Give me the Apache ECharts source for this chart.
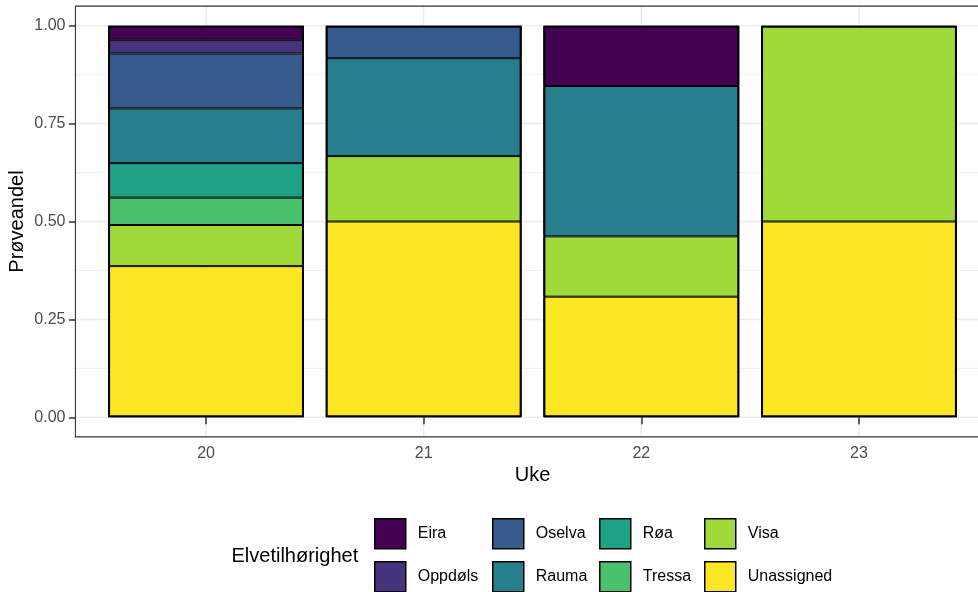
<!DOCTYPE html>
<html><head><meta charset="utf-8">
<script src="https://cdn.jsdelivr.net/npm/echarts@6/dist/echarts.min.js"></script>
<style>html,body{margin:0;padding:0;background:#fff}#c{width:978px;height:592px}</style>
</head><body><div id="c"></div>
<script>
// ---- data ----
const weeks = ['20', '21', '22', '23'];
const eira       = [0.036, 0,     0.154, 0];
const oppdols    = [0.035, 0,     0,     0];
const oselva     = [0.140, 0.083, 0,     0];
const rauma      = [0.140, 0.250, 0.384, 0];
const roa        = [0.088, 0,     0,     0];
const tressa     = [0.070, 0,     0,     0];
const visa       = [0.105, 0.167, 0.154, 0.5];
const unassigned = [0.386, 0.500, 0.308, 0.5];
const yTicks = [0, 0.25, 0.5, 0.75, 1];
const riverNames = ['Eira', 'Oppdøls', 'Oselva', 'Rauma', 'Røa', 'Tressa', 'Visa', 'Unassigned'];
const riverValues = [eira, oppdols, oselva, rauma, roa, tressa, visa, unassigned];
const riverColors = ['#440154', '#46337E', '#365C8D', '#277F8E', '#1FA187', '#4AC16D', '#9FDA3A', '#FDE725'];
const legendColumns = [['Eira', 'Oppdøls'], ['Oselva', 'Rauma'], ['Røa', 'Tressa'], ['Visa', 'Unassigned']];

const FONT = '"Liberation Sans", Arial, sans-serif';
const chart = echarts.init(document.getElementById('c'), null, {renderer: 'canvas'});

// stacking order bottom-up: Unassigned ... Eira
const order = riverNames.map((_, i) => i).reverse();
const series = order.map(i => ({
  name: riverNames[i],
  type: 'bar',
  stack: 'p',
  barCategoryGap: '10%',
  barGap: '-100%',
  itemStyle: {color: riverColors[i], borderColor: '#000', borderWidth: 1},
  emphasis: {disabled: true},
  data: riverValues[i].map(v => v === 0 ? '-' : v)
}));
// outer outline of each stacked column (total of the segments)
const totals = weeks.map((_, j) => riverValues.reduce((s, arr) => s + arr[j], 0));
series.push({
  name: 'outline',
  type: 'bar',
  barCategoryGap: '10%',
  barGap: '-100%',
  z: 3,
  silent: true,
  itemStyle: {color: 'rgba(0,0,0,0)', borderColor: '#000', borderWidth: 2},
  emphasis: {disabled: true},
  data: totals
});

// one legend per key so the columns line up like the reference
const legendLefts = [374, 492, 599, 704];
const legendTops = [518, 561];
const legends = [];
legendColumns.forEach((col, c) => col.forEach((name, r) => {
  legends.push({
    orient: 'vertical', left: legendLefts[c], top: legendTops[r], padding: 0,
    itemWidth: 31, itemHeight: 30, icon: 'rect',
    selectedMode: false,
    data: [name],
    itemStyle: {borderColor: '#000', borderWidth: 1.5},
    textStyle: {fontSize: 16, color: '#000', fontFamily: FONT, padding: [0, 0, 0, 7]}
  });
}));

chart.setOption({
  animation: false,
  color: riverColors,
  grid: {left: 97.2, right: 10.2, top: 25.7, bottom: 174.7, containLabel: false},
  xAxis: {
    type: 'category', data: weeks, offset: 19.4,
    axisLine: {show: false},
    axisTick: {show: true, alignWithLabel: true, length: 7, lineStyle: {color: '#333', width: 1.5}},
    axisLabel: {margin: 8.5, color: '#4D4D4D', fontSize: 16, fontFamily: FONT},
    splitLine: {show: false}
  },
  yAxis: {
    type: 'value', min: 0, max: 1, interval: 0.25, offset: 21.2,
    axisLine: {show: false},
    axisTick: {show: true, length: 7, lineStyle: {color: '#333', width: 1.5}},
    axisLabel: {margin: 10.5, color: '#4D4D4D', fontSize: 16, fontFamily: FONT, formatter: v => v.toFixed(2)},
    splitLine: {show: false}
  },
  legend: legends,
  series: series
});

// panel geometry from the library's own scales
const xs = weeks.map(w => chart.convertToPixel({xAxisIndex: 0}, w));
const band = xs[1] - xs[0];
const panelL = xs[0] - 0.6 * band;
const panelR = xs[xs.length - 1] + 0.6 * band;
const panelT = chart.convertToPixel({yAxisIndex: 0}, 1.05);
const panelB = chart.convertToPixel({yAxisIndex: 0}, -0.05);

const gfx = [];
for (let i = 0; i < yTicks.length - 1; i++) {
  const y = chart.convertToPixel({yAxisIndex: 0}, (yTicks[i] + yTicks[i + 1]) / 2);
  gfx.push({type: 'line', z: -5, silent: true, shape: {x1: panelL, y1: y, x2: panelR, y2: y}, style: {stroke: '#EBEBEB', lineWidth: 0.8}});
}
yTicks.forEach(t => {
  const y = chart.convertToPixel({yAxisIndex: 0}, t);
  gfx.push({type: 'line', z: -4, silent: true, shape: {x1: panelL, y1: y, x2: panelR, y2: y}, style: {stroke: '#EBEBEB', lineWidth: 1.5}});
});
xs.forEach(x => {
  gfx.push({type: 'line', z: -4, silent: true, shape: {x1: x, y1: panelT, x2: x, y2: panelB}, style: {stroke: '#EBEBEB', lineWidth: 1.5}});
});
gfx.push({type: 'rect', z: 50, silent: true, shape: {x: panelL, y: panelT, width: panelR - panelL, height: panelB - panelT}, style: {fill: 'none', stroke: '#333', lineWidth: 1.1}});
gfx.push({type: 'text', z: 50, silent: true, x: (panelL + panelR) / 2, y: 475, style: {text: 'Uke', fontSize: 20, fontFamily: FONT, fill: '#000', align: 'center', verticalAlign: 'middle'}});
gfx.push({type: 'text', z: 50, silent: true, x: 17.5, y: (panelT + panelB) / 2, rotation: Math.PI / 2, style: {text: 'Prøveandel', fontSize: 20, fontFamily: FONT, fill: '#000', align: 'center', verticalAlign: 'middle'}});
gfx.push({type: 'text', z: 50, silent: true, x: 231.5, y: 556.7, style: {text: 'Elvetilhørighet', fontSize: 20, fontFamily: FONT, fill: '#000', align: 'left', verticalAlign: 'middle'}});

chart.setOption({graphic: {elements: gfx}});
</script>
</body></html>
